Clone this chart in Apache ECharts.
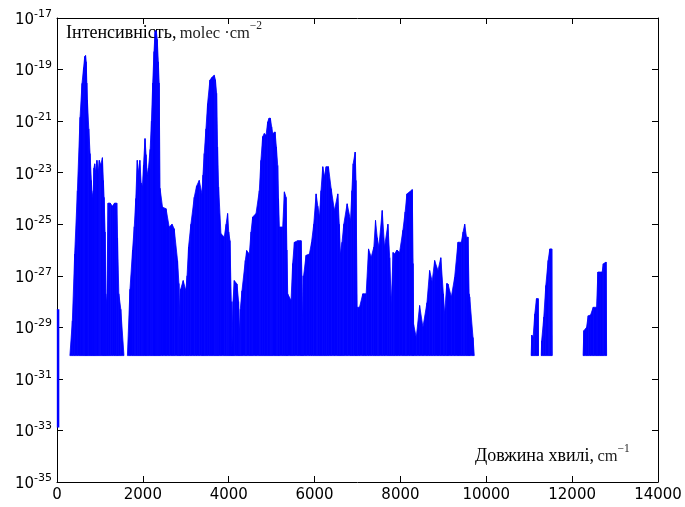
<!DOCTYPE html>
<html>
<head>
<meta charset="utf-8">
<script src="https://cdn.jsdelivr.net/npm/echarts@6/dist/echarts.min.js"></script>
<style>
html,body{margin:0;padding:0;background:#fff;}
#chart{width:685px;height:507px;}
</style>
</head>
<body>
<div id="chart"></div>
<script>
// ---- data ----
// spectral envelope: wavenumber (cm^-1) and peak line intensity; null separates bands
const wavenumber = [
  300, 358, 412, 475, 537, 583, 620, 646, 665, 680, 695, 708, 740, 770, 800, 817, 845, 860, 879, 900,
  930, 960, 985, 1020, 1058, 1080, 1097, 1120, 1136, 1160, 1190, 1240, 1290, 1340, 1392, 1410, 1440, 1486, 1560,
  null,
  1640, 1700, 1760, 1800, 1836, 1870, 1900, 1930, 1960, 1990, 2015, 2050, 2075, 2100, 2130, 2170, 2200, 2230,
  2260, 2285, 2310, 2335, 2360, 2380, 2400, 2458, 2540, 2613, 2680, 2730, 2808, 2840, 2862, 2880, 2940, 3002,
  3030, 3064, 3119, 3197, 3250, 3313, 3376, 3400, 3430, 3470, 3508, 3562, 3610, 3663, 3690, 3718, 3740, 3764,
  3819, 3897, 3940, 3974, 4000, 4029, 4060, 4076, 4100, 4130, 4192, 4230, 4247, 4270, 4309, 4387, 4418, 4480,
  4520, 4558, 4636, 4713, 4750, 4791, 4830, 4869, 4908, 4940, 4970, 5000, 5024, 5079, 5110, 5141, 5160, 5180,
  5258, 5297, 5336, 5355, 5374, 5452, 5490, 5530, 5608, 5686, 5705, 5724, 5745, 5802, 5880, 5930, 5981, 6036,
  6075, 6113, 6150, 6191, 6230, 6269, 6323, 6386, 6463, 6541, 6575, 6603, 6640, 6681, 6759, 6837, 6870, 6899,
  6946, 6965, 6992, 7047, 7124, 7202, 7257, 7319, 7381, 7420, 7460, 7498, 7576, 7630, 7708, 7750, 7786, 7830,
  7863, 7920, 7980, 8058, 8110, 8151, 8213, 8276, 8295, 8307, 8369, 8447, 8524, 8618, 8680, 8740, 8797, 8875,
  8940, 9000, 9030, 9080, 9108, 9186, 9263, 9341, 9419, 9460, 9497, 9540, 9574, 9600, 9613, 9691, 9720,
  null,
  11045, 11060, 11091, 11130, 11169, 11208, 11215,
  null,
  11280, 11290, 11340, 11387, 11441, 11480, 11525, 11535,
  null,
  12255, 12273, 12336, 12374, 12429, 12491, 12569, 12600, 12660, 12700, 12725, 12790, 12803
];
const intensity = [
  8e-31, 1.8e-29, 7e-27, 2e-24, 1.4e-21, 2.9e-20, 1.2e-19, 3.2e-19, 3.5e-19, 2e-19, 3e-20, 6.5e-21, 5e-22, 5.5e-23, 5e-24, 1.1e-24, 2e-24, 1.5e-23, 2.2e-23, 1e-23,
  3e-23, 1e-23, 3e-23, 2e-23, 3.8e-23, 5e-24, 1.1e-24, 5e-26, 2e-28, 8e-29, 6.6e-25, 6.6e-25, 5e-25, 6.6e-25, 6.6e-25, 3e-26, 2e-28, 5e-29, 8e-31,
  null,
  8e-31, 3e-28, 1e-26, 8e-26, 1e-24, 3e-23, 1e-23, 3e-23, 4e-24, 3e-24, 2e-23, 2.1e-22, 5e-23, 8e-24, 1.5e-23, 8e-23, 1e-21, 3e-20,
  5e-19, 3e-18, 3.4e-18, 1.5e-18, 2e-19, 3e-20, 2.5e-24, 4.6e-25, 4e-25, 7.8e-26, 1e-25, 6.6e-26, 3.9e-27, 5e-28, 1.8e-29, 3e-28, 6.5e-28, 2.6e-28,
  1e-27, 1.3e-26, 1e-25, 1.1e-24, 3e-24, 5e-24, 1.5e-24, 8e-24, 5.5e-23, 5e-22, 4.8e-21, 3.9e-20, 5e-20, 6e-20, 4e-20, 1.2e-20, 1e-22, 2.8e-24,
  4.3e-26, 3.2e-26, 1e-25, 2.6e-25, 5e-26, 2.3e-26, 1e-28, 1.7e-30, 1e-28, 6.5e-28, 4.8e-28, 1e-28, 5.5e-30, 5e-29, 2.6e-28, 3.9e-27, 9.5e-27, 7e-27,
  5e-26, 1.9e-25, 2.6e-25, 2e-24, 3e-23, 2.5e-22, 3.3e-22, 2.8e-22, 9.3e-22, 1.3e-21, 1.3e-21, 6e-22, 3.3e-22, 3.8e-22, 1e-22, 1.9e-23, 1e-24, 7.8e-26,
  7.8e-26, 1.8e-24, 1.1e-24, 1e-26, 2e-28, 1.1e-28, 3e-27, 2e-26, 2.3e-26, 2.3e-26, 1e-27, 7.4e-30, 1e-27, 6.2e-27, 7e-27, 2e-26, 1e-25, 1.5e-24,
  5e-25, 1.9e-25, 2e-24, 1.7e-23, 7e-24, 1.7e-23, 1.7e-23, 2.4e-24, 3.4e-25, 1.5e-24, 1e-25, 7e-27, 2e-26, 1e-25, 6.2e-25, 1.4e-25, 2e-24, 2.2e-23,
  6.3e-23, 5e-24, 6e-29, 6e-29, 2e-28, 2e-28, 1.1e-26, 5.2e-27, 1.3e-26, 1.4e-25, 3e-26, 1.3e-26, 3.4e-25, 1.3e-26, 1e-25, 5e-27, 8e-29, 8e-27,
  7e-27, 1e-26, 8e-27, 5.8e-26, 3e-25, 1.5e-24, 1.8e-24, 2.2e-24, 3e-27, 1.3e-29, 4e-30, 7e-29, 1e-29, 9e-29, 1.6e-27, 6e-28, 3.9e-27, 1.6e-27,
  5e-27, 2e-28, 3.3e-29, 5e-28, 4.8e-28, 1.5e-28, 8.7e-28, 2e-26, 2e-26, 5e-26, 1e-25, 3e-26, 3.2e-26, 2e-28, 1.5e-28, 4e-30, 8e-31,
  null,
  8e-31, 5e-30, 4e-30, 3.3e-29, 1.3e-28, 1.3e-28, 8e-31,
  null,
  8e-31, 3e-30, 2.5e-29, 4.2e-28, 3.9e-27, 1.1e-26, 1.1e-26, 8e-31,
  null,
  8e-31, 7.4e-30, 1e-29, 2.8e-29, 3e-29, 6e-29, 6e-29, 1.4e-27, 1.4e-27, 1.4e-27, 2.9e-27, 3.4e-27, 8e-31
];
// lines drawn at the left edge (lowest wavenumbers)
const edgeWavenumber = [25, 25];
const edgeIntensity = [1.3e-33, 5e-29];
const baseline = 8e-31;
const xTicks = [0, 14000, 2000];     // min, max, step
const yDecades = [-35, -17, 2];      // lowest exponent, highest exponent, step

// ECharts' log scale cannot handle values this small, so the y axis is a linear
// axis over decades counted from 10^-35 (value = log10(I) + 35).
const Y0 = yDecades[0];
const toY = (v) => Math.log10(v) - Y0;

// ---- build the trapezoid items from the arrays ----
const items = [];
for (let i = 0; i < wavenumber.length - 1; i++) {
  if (wavenumber[i] == null || wavenumber[i + 1] == null) continue;
  items.push([wavenumber[i], toY(intensity[i]), wavenumber[i + 1], toY(intensity[i + 1])]);
}
const edgeData = edgeWavenumber.map((w, i) => [w, toY(edgeIntensity[i])]);
const baseY = toY(baseline);

const BLUE = '#0000ff';
const chart = echarts.init(document.getElementById('chart'), null, {renderer: 'canvas'});

const xBase = {
  type: 'value', min: xTicks[0], max: xTicks[1], interval: xTicks[2],
  axisLine: {show: true, onZero: false, lineStyle: {color: '#000', width: 1}},
  axisTick: {show: true, inside: true, length: 6, lineStyle: {color: '#000'}},
  splitLine: {show: false}
};
const yBase = {
  type: 'value', min: 0, max: yDecades[1] - Y0, interval: yDecades[2],
  axisLine: {show: true, onZero: false, lineStyle: {color: '#000', width: 1}},
  axisTick: {show: true, inside: true, length: 6, lineStyle: {color: '#000'}},
  splitLine: {show: false}
};
const supRich = {
  a: {fontFamily: 'Liberation Serif', fontSize: 18, fill: '#000', lineHeight: 22, verticalAlign: 'bottom'},
  m: {fontFamily: 'Liberation Serif', fontSize: 16.5, fill: '#222', lineHeight: 22, verticalAlign: 'bottom'},
  s: {fontFamily: 'Liberation Serif', fontSize: 11.5, fill: '#222', lineHeight: 12, verticalAlign: 'top'}
};

chart.setOption({
  animation: false,
  backgroundColor: '#fff',
  grid: {left: 57, right: 27, top: 18, bottom: 25, containLabel: false},
  xAxis: [
    Object.assign({}, xBase, {position: 'bottom',
      axisLabel: {show: true, color: '#000', fontSize: 15, fontFamily: 'DejaVu Sans', margin: 6,
        formatter: (v) => String(v)}}),
    Object.assign({}, xBase, {position: 'top', axisLabel: {show: false}})
  ],
  yAxis: [
    Object.assign({}, yBase, {position: 'left',
      axisLabel: {show: true, margin: 5, align: 'right',
        formatter: function (v) { return '{b|10}{s|' + Math.round(v + Y0) + '}'; },
        rich: {
          b: {fontSize: 15, fontFamily: 'DejaVu Sans', color: '#000', lineHeight: 19, verticalAlign: 'bottom'},
          s: {fontSize: 11, fontFamily: 'DejaVu Sans', color: '#000', lineHeight: 11, verticalAlign: 'top'}
        }}}),
    Object.assign({}, yBase, {position: 'right', axisLabel: {show: false}})
  ],
  series: [
    {
      type: 'custom',
      xAxisIndex: 0, yAxisIndex: 0,
      clip: true,
      silent: true,
      encode: {x: [0, 2], y: [1, 3]},
      data: items,
      renderItem: function (params, api) {
        const x0 = api.value(0), v0 = api.value(1), x1 = api.value(2), v1 = api.value(3);
        const p0 = api.coord([x0, v0]);
        const p1 = api.coord([x1, v1]);
        const b0 = api.coord([x0, baseY]);
        const b1 = api.coord([x1, baseY]);
        return {
          type: 'polygon',
          shape: {points: [b0, p0, p1, b1]},
          style: {fill: BLUE, stroke: BLUE, lineWidth: 0.8}
        };
      }
    },
    {
      type: 'line',
      xAxisIndex: 0, yAxisIndex: 0,
      data: edgeData,
      symbol: 'none',
      silent: true,
      lineStyle: {color: BLUE, width: 2.5}
    }
  ],
  graphic: [
    {
      type: 'text', left: 66, top: 20, z: 100,
      style: {text: '{a|Інтенсивність,} {m|molec ·cm}{s|−2}', rich: supRich}
    },
    {
      type: 'text', left: 475, top: 443, z: 100,
      style: {text: '{a|Довжина хвилі,} {m|cm}{s|−1}', rich: supRich}
    }
  ]
});
</script>
</body>
</html>
